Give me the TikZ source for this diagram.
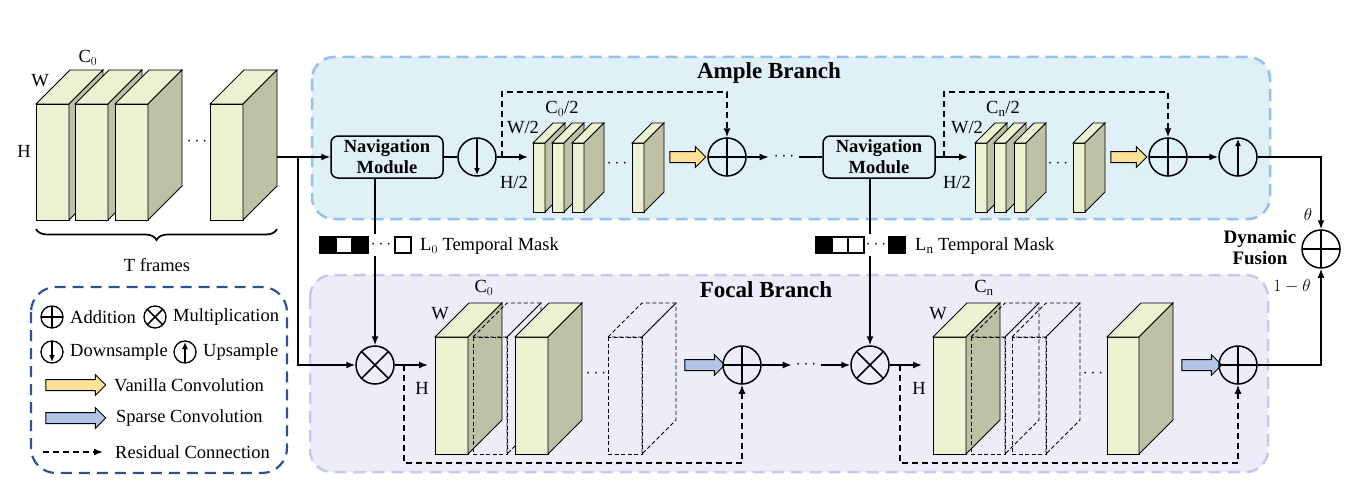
\documentclass[tikz,border=0pt]{standalone}
\usepackage{fontspec}
\setmainfont{Liberation Serif}
\usetikzlibrary{arrows.meta,shapes.arrows,decorations.pathreplacing,calc}

\definecolor{facec}{RGB}{236,241,210}
\definecolor{sidec}{RGB}{190,193,166}
\definecolor{ampleb}{RGB}{223,240,246}
\definecolor{ampled}{RGB}{150,192,230}
\definecolor{focalb}{RGB}{237,237,250}
\definecolor{focald}{RGB}{198,198,238}
\definecolor{legendd}{RGB}{47,82,143}
\definecolor{vanc}{RGB}{255,226,150}
\definecolor{spac}{RGB}{178,197,229}

% feature slab: [style]{x}{top}{width}{height}{depth}
\newcommand{\slab}[6][]{%
  \filldraw[line width=0.9pt,fill=facec,#1] (#2,#3) rectangle ++(#4,#5);
  \filldraw[line width=0.9pt,fill=facec,#1] (#2,#3) -- ++(#6,-#6) -- ++(#4,0) -- ++(-#6,#6) -- cycle;
  \filldraw[line width=0.9pt,fill=sidec,#1] ({#2+#4},#3) -- ++(#6,-#6) -- ++(0,#5) -- ++(-#6,#6) -- cycle;
}

\begin{document}
\begin{tikzpicture}[x=1pt,y=-1pt,
  every node/.style={inner sep=0pt,font=\fontsize{18.5}{22}\selectfont},
  thk/.style={line width=1.5pt},
  flow/.style={thk,-{Latex[length=9pt,width=7pt]}},
  res/.style={thk,dash pattern=on 6pt off 4pt,-{Latex[length=9pt,width=7pt]}},
  ghost/.style={fill=none,dash pattern=on 4pt off 2.5pt},
  navbox/.style={draw,thk,fill=ampleb,rounded corners=7pt,align=center,minimum width=112pt,minimum height=42pt,font=\bfseries\fontsize{18.5}{21}\selectfont},
  opnode/.style={circle,draw,thk,minimum size=38pt},
  addop/.style={opnode,path picture={\draw[thk] (path picture bounding box.north) -- (path picture bounding box.south) (path picture bounding box.west) -- (path picture bounding box.east);}},
  mulop/.style={opnode,path picture={\draw[thk] (path picture bounding box.north west) -- (path picture bounding box.south east) (path picture bounding box.north east) -- (path picture bounding box.south west);}},
  downop/.style={opnode,path picture={\draw[thk,-{Latex[length=7pt,width=6pt]},shorten >=1pt] (path picture bounding box.north) -- (path picture bounding box.south);}},
  upop/.style={opnode,path picture={\draw[thk,-{Latex[length=7pt,width=6pt]},shorten >=1pt] (path picture bounding box.south) -- (path picture bounding box.north);}},
  mini/.style={minimum size=22pt,line width=1.3pt},
  conv/.style={single arrow,draw,line width=1pt,inner xsep=0pt,inner ysep=5pt,minimum height=36pt,minimum width=20pt,single arrow head extend=5pt,single arrow head indent=0pt},
  vconv/.style={conv,fill=vanc},
  sconv/.style={conv,fill=spac},
  cell/.style={draw,line width=1.2pt,minimum size=16pt},
  title/.style={font=\bfseries\fontsize{23}{27}\selectfont},
  ]
  \useasboundingbox (0,0) rectangle (1364,500);

  \filldraw[draw=ampled,fill=ampleb,line width=2.5pt,dash pattern=on 12pt off 7pt,rounded corners=22pt] (312,57) rectangle (1270,219);
  \filldraw[draw=focald,fill=focalb,line width=2.5pt,dash pattern=on 12pt off 7pt,rounded corners=22pt] (310,275) rectangle (1268,472);
  \draw[legendd,line width=2.2pt,dash pattern=on 11pt off 7pt,rounded corners=25pt] (31,287) rectangle (287,473);

  \node[title] (ampt) at (769,73) {Ample Branch};
  \node[title] (foct) at (766,290) {Focal Branch};

  % input frames
  \foreach \fx in {36,75,115,210} {\slab{\fx}{104}{33}{116}{34}}
  \node (inw) at (40,81) {W};
  \node (inc) at (88,58) {C$_0$};
  \node (inh) at (24,151) {H};
  \node (indots) at (197,142) {$\cdots$};
  \draw[decorate,decoration={brace,mirror,amplitude=11pt},line width=1.7pt] (36,229) -- (277,229);
  \node (tfr) at (157,265) {T frames};

  % ample branch
  \foreach \fx in {533,552,572,632} {\slab{\fx}{143}{12}{69}{20}}
  \foreach \fx in {975,994,1014,1073} {\slab{\fx}{143}{12}{69}{20}}
  \node (ac0) at (562,109) {C$_0$/2};
  \node (aw0) at (523,128) {W/2};
  \node (ah0) at (514,182) {H/2};
  \node (acn) at (1003,109) {C\textsubscript{n}/2};
  \node (awn) at (967,128) {W/2};
  \node (ahn) at (957,182) {H/2};
  \node (ad0) at (617,164) {$\cdots$};
  \node (adn) at (1058,164) {$\cdots$};

  \node[navbox] (nav1) at (387,157) {Navigation\\Module};
  \node[downop] (down1) at (477,157) {};
  \node[vconv] (vc1) at (685,157) {};
  \node[addop] (add1) at (727,157) {};
  \node (adots) at (784,157) {$\cdots$};
  \node[navbox] (nav2) at (879,157) {Navigation\\Module};
  \node[vconv] (vc2) at (1126,157) {};
  \node[addop] (add2) at (1168,157) {};
  \node[upop] (up1) at (1238,157) {};
  \node[addop] (fuse) at (1321,249) {};
  \node[font=\bfseries\fontsize{19}{21}\selectfont,align=center] (dyn) at (1260,248) {Dynamic\\Fusion};
  \node (th) at (1308,214) {$\theta$};
  \node (omt) at (1292,286) {$1-\theta$};

  \coordinate (inp) at (277,157);
  \coordinate (split) at (298,157);
  \coordinate (a1in) at (528,157);
  \coordinate (a2in) at (968,157);
  \coordinate (r1s) at (502,157);
  \coordinate (r2s) at (944,157);
  \draw[thk] (inp) -- (split);
  \draw[flow] (split) -- (nav1);
  \draw[thk] (nav1) -- (down1);
  \draw[flow] (down1) -- (a1in);
  \draw[flow] (add1) -- ([xshift=-5pt]adots.west);
  \draw[thk] ([xshift=5pt]adots.east) -- (nav2);
  \draw[flow] (nav2) -- (a2in);
  \draw[flow] (add2) -- (up1);
  \draw[flow] (up1) -| (fuse.north);
  \draw[res] (r1s) -- ++(0,-65) -| (add1.north);
  \draw[res] (r2s) -- ++(0,-65) -| (add2.north);

  % temporal masks
  \foreach \c [count=\i] in {black,white,black} {\node[cell,fill=\c] (ma\i) at ({312+16*\i},245) {};}
  \node[minimum height=22pt] (mad) at (381,245) {$\cdots$};
  \node[cell,fill=white] (mae) at (403,245) {};
  \node[anchor=west] (mat) at (420,246) {L$_0$ Temporal Mask};
  \foreach \c [count=\i] in {black,white,white} {\node[cell,fill=\c] (mb\i) at ({808+16*\i},245) {};}
  \node[minimum height=22pt] (mbd) at (876,245) {$\cdots$};
  \node[cell,fill=black] (mbe) at (897,245) {};
  \node[anchor=west] (mbt) at (915,246) {L\textsubscript{n} Temporal Mask};

  % focal branch
  \slab{435}{337}{33}{117}{34}
  \slab[ghost]{473}{337}{34}{117}{34}
  \slab{515}{337}{33}{117}{34}
  \slab[ghost]{608}{337}{34}{117}{34}
  \slab{933}{337}{33}{117}{34}
  \slab[ghost]{971}{337}{34}{117}{34}
  \slab[ghost]{1012}{337}{34}{117}{34}
  \slab{1107}{337}{32}{117}{34}
  \node (fc0) at (484,288) {C$_0$};
  \node (fw0) at (440,314) {W};
  \node (fh0) at (422,388) {H};
  \node (fcn) at (984,288) {C\textsubscript{n}};
  \node (fwn) at (938,314) {W};
  \node (fhn) at (919,388) {H};
  \node (fd0) at (596,374) {$\cdots$};
  \node (fdn) at (1093,374) {$\cdots$};

  \node[mulop] (mul1) at (375,365) {};
  \node[sconv,minimum height=40pt] (sc1) at (702,365) {};
  \node[addop] (add3) at (742,365) {};
  \node (fdots) at (806,365) {$\cdots$};
  \node[mulop] (mul2) at (870,365) {};
  \node[sconv,minimum height=40pt] (sc2) at (1199,365) {};
  \node[addop] (add4) at (1238,365) {};

  \coordinate (f1in) at (428,365);
  \coordinate (f2in) at (922,365);
  \coordinate (r3s) at (404,365);
  \coordinate (r4s) at (900,365);
  \draw[flow] (split) |- (mul1);
  \draw[thk] (nav1.south -| mul1) -- (mad.north -| mul1);
  \draw[flow] (mad.south -| mul1) -- (mul1);
  \draw[thk] (nav2.south -| mul2) -- (mbd.north -| mul2);
  \draw[flow] (mbd.south -| mul2) -- (mul2);
  \draw[flow] (mul1) -- (f1in);
  \draw[flow] (add3) -- ([xshift=-4pt]fdots.west);
  \draw[flow] ([xshift=5pt]fdots.east) -- (mul2);
  \draw[flow] (mul2) -- (f2in);
  \draw[flow] (add4) -| (fuse.south);
  \draw[res] (r3s) -- ++(0,98) -| (add3.south);
  \draw[res] (r4s) -- ++(0,98) -| (add4.south);

  % legend
  \node[addop,mini] (ladd) at (52,317) {};
  \node[anchor=west] (laddt) at (70,317) {Addition};
  \node[mulop,mini] (lmul) at (155,317) {};
  \node[anchor=west] (lmult) at (173,317) {Multiplication};
  \node[downop,mini] (ldown) at (52,352) {};
  \node[anchor=west] (ldownt) at (70,352) {Downsample};
  \node[upop,mini] (lup) at (185,352) {};
  \node[anchor=west] (lupt) at (203,352) {Upsample};
  \node[vconv,minimum height=60pt] (lvc) at (73,385) {};
  \node[anchor=west] (lvct) at (114,385) {Vanilla Convolution};
  \node[sconv,minimum height=60pt] (lsc) at (73,418) {};
  \node[anchor=west] (lsct) at (116,418) {Sparse Convolution};
  \coordinate (lres0) at (43,452);
  \coordinate (lres1) at (103,452);
  \draw[res] (lres0) -- (lres1);
  \node[anchor=west] (lrest) at (115,452) {Residual Connection};
\end{tikzpicture}
\end{document}
